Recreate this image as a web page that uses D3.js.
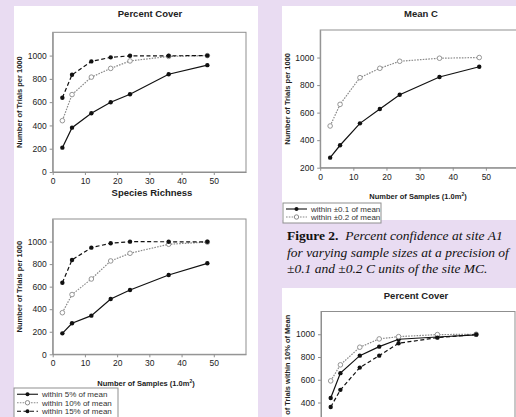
<!DOCTYPE html>
<html>
<head>
<meta charset="utf-8">
<script src="https://cdn.jsdelivr.net/npm/d3@7"></script>
<style>
  body { margin: 0; background: #e9dcf2; }
  svg { display: block; }
</style>
</head>
<body>
<script>
// sample sizes (x) shared by every panel
const samples = [3, 6, 12, 18, 24, 36, 48];
const xTicks = [0, 10, 20, 30, 40, 50];
const yTicks = [0, 200, 400, 600, 800, 1000];
const yTicksMeanC = [200, 400, 600, 800, 1000];
const yTicksCut = [400, 600, 800, 1000]; // bottom right panel is cut by the page edge

// Percent Cover (top left)
const cover5 = [209, 381, 505, 599, 668, 840, 918];
const cover10 = [441, 665, 815, 890, 954, 993, 1000];
const cover15 = [638, 835, 950, 985, 998, 998, 1000];

// Species Richness (bottom left)
const rich5 = [186, 275, 343, 490, 570, 703, 807];
const rich10 = [369, 530, 668, 828, 896, 976, 995];
const rich15 = [635, 837, 946, 985, 999, 998, 998];

// Mean C (top right)
const meanC01 = [273, 363, 522, 626, 730, 859, 933];
const meanC02 = [503, 660, 854, 922, 973, 995, 1000];

// Percent Cover, within 10% of mean (bottom right)
const coverSolid = [440, 658, 812, 891, 956, 976, 995];
const coverRing = [590, 731, 886, 959, 979, 997, 1000];
const coverDash = [360, 511, 707, 812, 921, 970, 998];

const legendPct = ["within 5% of mean", "within 10% of mean", "within 15% of mean"];
const legendMeanC = ["within \u00b10.1 of mean", "within \u00b10.2 of mean"];

const W = 516, H = 417;
const gray = "#8f8f8f";
const sans = "'Liberation Sans', Arial, sans-serif";
const fmt = d3.format("d");

const styles = {
  solid: {stroke: "#111", dash: null, ring: false},
  ring: {stroke: "#8a8a8a", dash: "1.6,1.2", ring: true},
  dash: {stroke: "#111", dash: "4,2.5", ring: false}
};

const svg = d3.select("body").append("svg")
    .attr("width", W)
    .attr("height", H)
    .style("font-family", sans);

svg.append("rect").attr("width", W).attr("height", H).attr("fill", "#e9dcf2");

// white chart panels
[[14, 6, 244, 411], [282, 6, 234, 214], [282, 288, 234, 129]].forEach(([x, y, w, h]) => {
  svg.append("rect").attr("x", x).attr("y", y).attr("width", w).attr("height", h).attr("fill", "#fff");
});

function chart(o) {
  const g = svg.append("g");
  const x = d3.scaleLinear().domain([0, 60]).range([o.left, o.right]);
  const y = d3.scaleLinear().domain(o.yDomain).range([o.bottom, o.top]);

  g.append("rect")
      .attr("x", o.left).attr("y", o.top)
      .attr("width", o.right - o.left).attr("height", o.bottom - o.top)
      .attr("fill", "none").attr("stroke", gray);

  const axes = [];
  if (o.bottom < H) {
    axes.push(g.append("g")
        .attr("transform", `translate(0,${o.bottom})`)
        .call(d3.axisBottom(x).tickValues(xTicks).tickFormat(fmt).tickSize(3).tickPadding(3).tickSizeOuter(0)));
  }
  axes.push(g.append("g")
      .attr("transform", `translate(${o.left},0)`)
      .call(d3.axisLeft(y).tickValues(o.yTicks).tickFormat(fmt).tickSize(3).tickPadding(3).tickSizeOuter(0)));
  axes.forEach(a => {
    a.selectAll("path,line").attr("stroke", gray);
    a.selectAll("text").attr("fill", "#222").style("font-size", "8.5px").style("font-family", sans);
  });

  const line = d3.line().x((d, i) => x(samples[i])).y(d => y(d));
  o.series.forEach(s => {
    const st = styles[s.style];
    g.append("path")
        .attr("d", line(s.values))
        .attr("fill", "none")
        .attr("stroke", st.stroke)
        .attr("stroke-width", 1.2)
        .attr("stroke-dasharray", st.dash);
    g.selectAll(null)
      .data(s.values)
      .join("circle")
        .attr("cx", (d, i) => x(samples[i]))
        .attr("cy", d => y(d))
        .attr("r", st.ring ? 2.3 : 2.2)
        .attr("fill", st.ring ? "#fff" : "#111")
        .attr("stroke", st.ring ? st.stroke : "none")
        .attr("stroke-width", 0.9);
  });

  if (o.title) {
    g.append("text")
        .attr("x", o.titleX).attr("y", o.titleY)
        .attr("text-anchor", "middle")
        .attr("font-weight", "bold")
        .attr("font-size", 9.5)
        .attr("fill", "#222")
        .text(o.title);
  }
  if (o.yLabel) {
    const cy = o.yLabelY || (o.top + o.bottom) / 2;
    g.append("text")
        .attr("transform", `translate(${o.yLabelX},${cy}) rotate(-90)`)
        .attr("text-anchor", "middle")
        .attr("font-weight", "bold")
        .attr("font-size", 7.5)
        .attr("fill", "#222")
        .text(o.yLabel);
  }
  if (o.xLabel) {
    const t = g.append("text")
        .attr("x", o.xLabelX).attr("y", o.xLabelY)
        .attr("text-anchor", "middle")
        .attr("font-weight", "bold")
        .attr("font-size", 7.5)
        .attr("fill", "#222");
    t.append("tspan").text(o.xLabel);
    t.append("tspan").attr("dy", -3).attr("font-size", 5).text("2");
    t.append("tspan").attr("dy", 3).text(")");
  }
}

function legend(x, y, w, rowH, labels, keys) {
  const g = svg.append("g");
  g.append("rect")
      .attr("x", x).attr("y", y)
      .attr("width", w).attr("height", rowH * labels.length + 4)
      .attr("fill", "#fff").attr("stroke", gray);
  labels.forEach((lab, i) => {
    const st = styles[keys[i]];
    const cy = y + 2 + rowH * (i + 0.5);
    g.append("line")
        .attr("x1", x + 3).attr("x2", x + 24)
        .attr("y1", cy).attr("y2", cy)
        .attr("stroke", st.stroke).attr("stroke-width", 1.1)
        .attr("stroke-dasharray", st.dash);
    g.append("circle")
        .attr("cx", x + 13.5).attr("cy", cy).attr("r", st.ring ? 2.2 : 2)
        .attr("fill", st.ring ? "#fff" : "#111")
        .attr("stroke", st.ring ? st.stroke : "none");
    g.append("text")
        .attr("x", x + 28).attr("y", cy + 3)
        .attr("font-size", 8)
        .attr("fill", "#333")
        .text(lab);
  });
}

chart({
  left: 52.7, right: 246, top: 32.3, bottom: 172,
  yDomain: [0, 1200], yTicks: yTicks,
  title: "Percent Cover", titleX: 150, titleY: 17,
  yLabel: "Number of Trials per 1000", yLabelX: 22,
  series: [{values: cover5, style: "solid"}, {values: cover10, style: "ring"}, {values: cover15, style: "dash"}]
});

chart({
  left: 52.7, right: 246, top: 219, bottom: 354.3,
  yDomain: [0, 1200], yTicks: yTicks,
  title: "Species Richness", titleX: 152, titleY: 196,
  yLabel: "Number of Trials per 1000", yLabelX: 22,
  xLabel: "Number of Samples (1.0m", xLabelX: 146, xLabelY: 386,
  series: [{values: rich5, style: "solid"}, {values: rich10, style: "ring"}, {values: rich15, style: "dash"}]
});

chart({
  left: 320.2, right: 519, top: 30, bottom: 167.7,
  yDomain: [200, 1200], yTicks: yTicksMeanC,
  title: "Mean C", titleX: 421, titleY: 17,
  yLabel: "Number of Trials per 1000", yLabelX: 290,
  xLabel: "Number of Samples (1.0m", xLabelX: 418, xLabelY: 199,
  series: [{values: meanC01, style: "solid"}, {values: meanC02, style: "ring"}]
});

chart({
  left: 321, right: 515, top: 311.5, bottom: 448,
  yDomain: [0, 1200], yTicks: yTicksCut,
  title: "Percent Cover", titleX: 416, titleY: 299,
  yLabel: "Number of Trials within 10% of Mean", yLabelX: 290, yLabelY: 380,
  series: [{values: coverSolid, style: "solid"}, {values: coverRing, style: "ring"}, {values: coverDash, style: "dash"}]
});

legend(14, 388, 104, 8.5, legendPct, ["solid", "ring", "dash"]);
legend(283, 203, 98, 8, legendMeanC, ["solid", "ring"]);

// figure caption
const cap = svg.append("text")
    .attr("x", 287).attr("y", 240)
    .attr("font-family", "'Liberation Serif', 'Times New Roman', serif")
    .attr("font-size", 13.5)
    .attr("fill", "#111");
cap.append("tspan").attr("font-weight", "bold").text("Figure 2.");
cap.append("tspan").attr("font-style", "italic").text("\u00a0 Percent confidence at site A1");
cap.append("tspan").attr("x", 287).attr("dy", 16.5).attr("font-style", "italic")
    .text("for varying sample sizes at a precision of");
cap.append("tspan").attr("x", 287).attr("dy", 16.5).attr("font-style", "italic")
    .text("\u00b10.1 and \u00b10.2 C units of the site MC.");
</script>
</body>
</html>
